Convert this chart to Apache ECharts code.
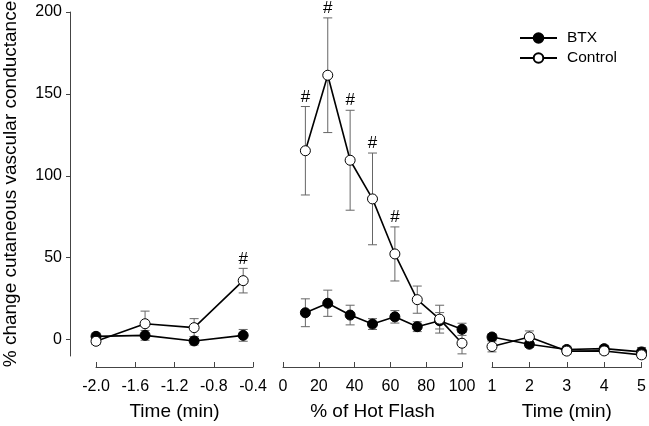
<!DOCTYPE html>
<html>
<head>
<meta charset="utf-8">
<script src="https://cdn.jsdelivr.net/npm/echarts@6/dist/echarts.min.js"></script>
<style>html,body{margin:0;padding:0;background:#fff;}#c{width:649px;height:426px;}</style>
</head>
<body>
<div id="c"></div>
<script>
// ---- data ----
var yTicks = [0, 50, 100, 150, 200];
var leftTicks = [-2.0, -1.6, -1.2, -0.8, -0.4];
var midTicks = [0, 20, 40, 60, 80, 100];
var rightTicks = [1, 2, 3, 4, 5];

var leftX = [-2.0, -1.5, -1.0, -0.5];
var leftBTX = [2, 2.6, -0.8, 2.6];
var leftBTXErr = [2, 3, 2.5, 3.6];
var leftCtl = [-1, 9.7, 7.3, 36];
var leftCtlErr = [2, 7.7, 5.5, 7.5];
var leftSig = [0, 0, 0, 1];

var midX = [12.5, 25, 37.5, 50, 62.5, 75, 87.5, 100];
var midBTX = [16.4, 22.2, 15, 9.5, 13.9, 7.9, 11.5, 6.3];
var midBTXErr = [8.5, 8, 6, 3.3, 3.8, 3, 5, 3.7];
var midCtl = [115.3, 161.4, 109.5, 85.9, 52.3, 24.4, 12.5, -2.2];
var midCtlErr = [27, 35, 30.5, 28, 16.5, 8.3, 8.5, 6.5];
var midSig = [1, 1, 1, 1, 1, 0, 0, 0];

var rightX = [1, 2, 3, 4, 5];
var rightBTX = [1.6, -2.8, -6, -5.5, -7.5];
var rightBTXErr = [2, 2, 2, 2, 2.7];
var rightCtl = [-4.2, 1.6, -7, -6.9, -9.3];
var rightCtlErr = [3.3, 3.7, 2, 2, 2];

var seriesNames = ['BTX', 'Control'];
var sigMark = '#';

// ---- helpers ----
function pts(xs, ys) { return xs.map(function (x, i) { return [x, ys[i]]; }); }
function errs(xs, ys, es, sig) {
  return xs.map(function (x, i) { return [x, ys[i] - es[i], ys[i] + es[i], sig ? sig[i] : 0]; });
}
var FONT = 'Liberation Sans, Arial, sans-serif';
var AX = '#444';

function renderErr(params, api) {
  var x = api.value(0), lo = api.value(1), hi = api.value(2), sig = api.value(3);
  var t = api.coord([x, hi]), b = api.coord([x, lo]);
  var cw = 4.5;
  var st = { stroke: '#666', lineWidth: 1 };
  var ch = [
    { type: 'line', shape: { x1: t[0], y1: t[1], x2: b[0], y2: b[1] }, style: st },
    { type: 'line', shape: { x1: t[0] - cw, y1: t[1], x2: t[0] + cw, y2: t[1] }, style: st },
    { type: 'line', shape: { x1: b[0] - cw, y1: b[1], x2: b[0] + cw, y2: b[1] }, style: st }
  ];
  if (sig) {
    ch.push({ type: 'text', x: t[0], y: t[1] - 1, style: { text: sigMark, fill: '#000', font: '17px ' + FONT, align: 'center', verticalAlign: 'bottom' } });
  }
  return { type: 'group', children: ch };
}

var grids = [
  { left: 96, width: 157, top: 12, height: 346.5 },
  { left: 283, width: 179, top: 12, height: 346.5 },
  { left: 492, width: 152, top: 12, height: 346.5 }
];

function xAxisCfg(idx, min, max, ticks, name, fmt) {
  return {
    type: 'value', gridIndex: idx, min: min, max: max, offset: 11,
    name: name, nameLocation: 'middle', nameGap: 35,
    nameTextStyle: { fontFamily: FONT, fontSize: 19, color: '#000' },
    splitLine: { show: false },
    axisLine: { show: true, onZero: false, lineStyle: { color: AX, width: 1 } },
    axisTick: { show: true, inside: true, length: 5, customValues: ticks, lineStyle: { color: AX } },
    axisLabel: { margin: 12, customValues: ticks, fontFamily: FONT, fontSize: 16, color: '#000', formatter: fmt }
  };
}

var yAxes = [0, 1, 2].map(function (i) {
  return {
    type: 'value', gridIndex: i, min: -10, max: 200, show: i === 0, offset: 26,
    name: i === 0 ? '% change cutaneous vascular conductance' : '',
    nameLocation: 'middle', nameGap: 50,
    nameTextStyle: { fontFamily: FONT, fontSize: 19, color: '#000' },
    splitLine: { show: false },
    axisLine: { show: true, lineStyle: { color: AX, width: 1 } },
    axisTick: { show: true, length: 4, customValues: yTicks, lineStyle: { color: AX } },
    axisLabel: { margin: 8, customValues: yTicks, fontFamily: FONT, fontSize: 16, color: '#000' }
  };
});

function lineSeries(name, idx, data, filled) {
  return {
    name: name, type: 'line', xAxisIndex: idx, yAxisIndex: idx, data: data, clip: false,
    symbol: 'circle', symbolSize: 10, z: filled ? 3 : 4,
    lineStyle: { color: '#000', width: 1.6 },
    itemStyle: { color: filled ? '#000' : '#fff', borderColor: '#000', borderWidth: 1 },
    emphasis: { disabled: true }, animation: false
  };
}
function errSeries(idx, data) {
  return {
    type: 'custom', xAxisIndex: idx, yAxisIndex: idx, data: data, renderItem: renderErr,
    clip: false, z: 2, silent: true, animation: false, encode: { x: 0, y: [1, 2] }
  };
}

var option = {
  animation: false,
  backgroundColor: '#fff',
  grid: grids,
  xAxis: [
    xAxisCfg(0, -2.0, -0.4, leftTicks, 'Time (min)', function (v) { return v.toFixed(1); }),
    xAxisCfg(1, 0, 100, midTicks, '% of Hot Flash'),
    xAxisCfg(2, 1, 5, rightTicks, 'Time (min)')
  ],
  yAxis: yAxes,
  legend: {
    orient: 'vertical', left: 519, top: 30, padding: 0, itemWidth: 37, itemHeight: 12, itemGap: 4,
    data: seriesNames,
    textStyle: { fontFamily: FONT, fontSize: 15.5, color: '#000', padding: [0, 0, 0, 5] }
  },
  series: [
    errSeries(0, errs(leftX, leftBTX, leftBTXErr)),
    errSeries(0, errs(leftX, leftCtl, leftCtlErr, leftSig)),
    lineSeries(seriesNames[0], 0, pts(leftX, leftBTX), true),
    lineSeries(seriesNames[1], 0, pts(leftX, leftCtl), false),
    errSeries(1, errs(midX, midBTX, midBTXErr)),
    errSeries(1, errs(midX, midCtl, midCtlErr, midSig)),
    lineSeries(seriesNames[0], 1, pts(midX, midBTX), true),
    lineSeries(seriesNames[1], 1, pts(midX, midCtl), false),
    errSeries(2, errs(rightX, rightBTX, rightBTXErr)),
    errSeries(2, errs(rightX, rightCtl, rightCtlErr)),
    lineSeries(seriesNames[0], 2, pts(rightX, rightBTX), true),
    lineSeries(seriesNames[1], 2, pts(rightX, rightCtl), false)
  ]
};
var chart = echarts.init(document.getElementById('c'), null, { renderer: 'canvas' });
chart.setOption(option);
</script>
</body>
</html>
